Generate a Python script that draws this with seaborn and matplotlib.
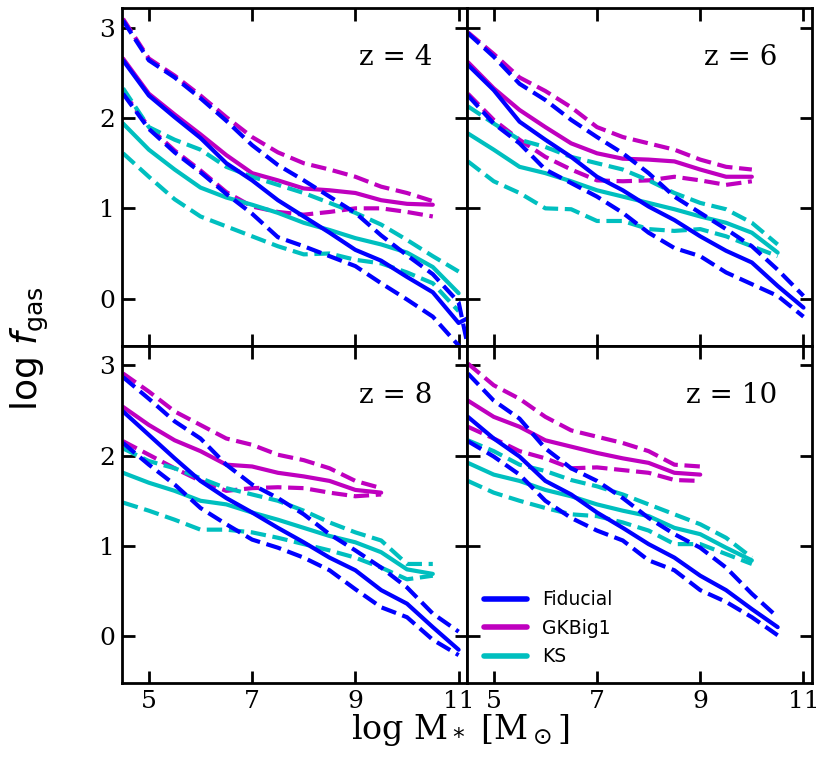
import numpy as np
import pandas as pd
import matplotlib
matplotlib.use("Agg")
import matplotlib.pyplot as plt
from matplotlib.lines import Line2D
import seaborn as sns

# ---------------- data (log M*, log f_gas) ----------------
mass = [4.5, 5.0, 5.5, 6.0, 6.5, 7.0, 7.5, 8.0, 8.5, 9.0, 9.5, 10.0, 10.5, 11.0, 11.5]

redshifts = [4, 6, 8, 10]
models = ["Fiducial", "GKBig1", "KS"]
colors = ["#0000ff", "#bf00bf", "#00bfbf"]

# z = 4
fid_z4 = [2.64, 2.25, 2.01, 1.78, 1.50, 1.31, 1.09, 0.91, 0.73, 0.54, 0.42, 0.24, 0.07, -0.27, -0.12]
fid_hi_z4 = [3.08, 2.64, 2.45, 2.22, 1.97, 1.70, 1.48, 1.31, 1.13, 0.95, 0.70, 0.48, 0.27, -0.04, -1.40]
fid_lo_z4 = [2.27, 1.88, 1.62, 1.40, 1.16, 0.94, 0.68, 0.58, 0.47, 0.36, 0.17, -0.01, -0.20, -0.52, -1.00]
gk_z4 = [2.66, 2.27, 2.04, 1.82, 1.59, 1.39, 1.31, 1.22, 1.20, 1.17, 1.09, 1.05, 1.04]
gk_hi_z4 = [3.10, 2.66, 2.47, 2.25, 2.01, 1.79, 1.62, 1.50, 1.43, 1.35, 1.24, 1.17, 1.08]
gk_lo_z4 = [2.29, 1.90, 1.64, 1.42, 1.18, 1.02, 0.96, 0.93, 0.96, 1.00, 1.00, 0.96, 0.91]
ks_z4 = [1.94, 1.65, 1.43, 1.23, 1.12, 1.04, 0.95, 0.84, 0.76, 0.67, 0.60, 0.51, 0.35, 0.06]
ks_hi_z4 = [2.33, 1.90, 1.76, 1.65, 1.46, 1.35, 1.26, 1.17, 1.06, 0.95, 0.82, 0.65, 0.47, 0.30]
ks_lo_z4 = [1.61, 1.35, 1.10, 0.91, 0.80, 0.69, 0.58, 0.49, 0.50, 0.43, 0.39, 0.29, 0.17, -0.14]

# z = 6
fid_z6 = [2.59, 2.31, 1.96, 1.76, 1.57, 1.35, 1.20, 1.02, 0.87, 0.69, 0.53, 0.40, 0.14, -0.10]
fid_hi_z6 = [2.94, 2.68, 2.38, 2.20, 1.98, 1.79, 1.61, 1.39, 1.13, 0.95, 0.77, 0.58, 0.32, 0.03]
fid_lo_z6 = [2.25, 1.94, 1.72, 1.43, 1.28, 1.13, 0.95, 0.73, 0.56, 0.47, 0.29, 0.16, 0.03, -0.20]
gk_z6 = [2.62, 2.33, 2.09, 1.90, 1.72, 1.61, 1.55, 1.54, 1.52, 1.43, 1.35, 1.35]
gk_hi_z6 = [2.95, 2.71, 2.45, 2.30, 2.12, 1.90, 1.79, 1.72, 1.65, 1.54, 1.46, 1.43]
gk_lo_z6 = [2.27, 1.98, 1.76, 1.57, 1.43, 1.31, 1.30, 1.31, 1.35, 1.31, 1.26, 1.30]
ks_z6 = [1.83, 1.65, 1.46, 1.39, 1.30, 1.20, 1.13, 1.06, 0.99, 0.91, 0.84, 0.73, 0.51]
ks_hi_z6 = [2.13, 1.94, 1.76, 1.68, 1.57, 1.50, 1.43, 1.31, 1.17, 1.06, 0.99, 0.84, 0.60]
ks_lo_z6 = [1.52, 1.30, 1.17, 1.00, 0.99, 0.86, 0.86, 0.77, 0.75, 0.77, 0.69, 0.58, 0.47]

# z = 8
fid_z8 = [2.49, 2.23, 1.97, 1.72, 1.53, 1.37, 1.20, 1.04, 0.87, 0.73, 0.51, 0.36, 0.10, -0.15]
fid_hi_z8 = [2.87, 2.63, 2.38, 2.19, 1.90, 1.68, 1.53, 1.35, 1.13, 0.95, 0.76, 0.54, 0.25, 0.05]
fid_lo_z8 = [2.14, 1.90, 1.68, 1.42, 1.24, 1.07, 0.98, 0.87, 0.73, 0.52, 0.32, 0.21, -0.04, -0.21]
gk_z8 = [2.54, 2.34, 2.17, 2.05, 1.90, 1.88, 1.81, 1.77, 1.72, 1.62, 1.59]
gk_hi_z8 = [2.91, 2.71, 2.49, 2.34, 2.19, 2.12, 2.01, 1.95, 1.86, 1.72, 1.64]
gk_lo_z8 = [2.16, 2.01, 1.86, 1.72, 1.61, 1.64, 1.65, 1.64, 1.59, 1.55, 1.57]
ks_z8 = [1.81, 1.70, 1.61, 1.50, 1.46, 1.37, 1.29, 1.20, 1.11, 1.04, 0.93, 0.74, 0.69]
ks_hi_z8 = [2.08, 1.94, 1.86, 1.75, 1.64, 1.57, 1.50, 1.39, 1.26, 1.15, 1.06, 0.80, 0.80]
ks_lo_z8 = [1.48, 1.39, 1.29, 1.18, 1.18, 1.15, 1.09, 1.02, 0.95, 0.87, 0.76, 0.63, 0.67]

# z = 10
fid_z10 = [2.43, 2.19, 1.99, 1.72, 1.57, 1.37, 1.20, 1.02, 0.87, 0.67, 0.51, 0.30, 0.10]
fid_hi_z10 = [2.91, 2.61, 2.41, 2.08, 1.86, 1.72, 1.53, 1.31, 1.13, 0.98, 0.76, 0.47, 0.21]
fid_lo_z10 = [2.16, 1.99, 1.79, 1.50, 1.31, 1.17, 1.06, 0.84, 0.73, 0.51, 0.38, 0.21, 0.01]
gk_z10 = [2.61, 2.43, 2.32, 2.17, 2.10, 2.03, 1.97, 1.92, 1.81, 1.79]
gk_hi_z10 = [3.02, 2.78, 2.63, 2.43, 2.28, 2.21, 2.14, 2.05, 1.90, 1.88]
gk_lo_z10 = [2.32, 2.19, 2.05, 1.97, 1.86, 1.87, 1.84, 1.81, 1.73, 1.72]
ks_z10 = [1.92, 1.79, 1.72, 1.62, 1.55, 1.46, 1.39, 1.33, 1.20, 1.13, 0.98, 0.84]
ks_hi_z10 = [2.17, 2.05, 1.90, 1.83, 1.73, 1.66, 1.57, 1.46, 1.35, 1.24, 1.09, 0.87]
ks_lo_z10 = [1.72, 1.59, 1.50, 1.42, 1.35, 1.33, 1.26, 1.17, 1.02, 1.02, 0.91, 0.80]

x_ticks = [5, 7, 9, 11]
y_ticks = [0, 1, 2, 3]

panels = {
    4: {"Fiducial": (fid_z4, fid_hi_z4, fid_lo_z4), "GKBig1": (gk_z4, gk_hi_z4, gk_lo_z4), "KS": (ks_z4, ks_hi_z4, ks_lo_z4)},
    6: {"Fiducial": (fid_z6, fid_hi_z6, fid_lo_z6), "GKBig1": (gk_z6, gk_hi_z6, gk_lo_z6), "KS": (ks_z6, ks_hi_z6, ks_lo_z6)},
    8: {"Fiducial": (fid_z8, fid_hi_z8, fid_lo_z8), "GKBig1": (gk_z8, gk_hi_z8, gk_lo_z8), "KS": (ks_z8, ks_hi_z8, ks_lo_z8)},
    10: {"Fiducial": (fid_z10, fid_hi_z10, fid_lo_z10), "GKBig1": (gk_z10, gk_hi_z10, gk_lo_z10), "KS": (ks_z10, ks_hi_z10, ks_lo_z10)},
}

# ---------------- style ----------------
sns.set_theme(style="ticks", color_codes=False)
plt.rcParams["font.family"] = ["DejaVu Serif"]
plt.rcParams["mathtext.fontset"] = "dejavusans"
for key in ("text.color", "axes.labelcolor", "xtick.color", "ytick.color", "axes.edgecolor"):
    plt.rcParams[key] = "black"

fig, axes = plt.subplots(2, 2, figsize=(8.3, 7.59), dpi=100, sharex=True, sharey=True)
fig.subplots_adjust(left=0.147, right=0.978, top=0.9895, bottom=0.1, wspace=0, hspace=0)

draw_order = ["GKBig1", "KS", "Fiducial"]
cmap = dict(zip(models, colors))

for ax, z in zip(axes.flat, redshifts):
    for m in draw_order:
        mid, hi, lo = panels[z][m]
        for arr, ls in ((hi, "--"), (lo, "--"), (mid, "-")):
            df = pd.DataFrame({"mass": mass[:len(arr)], "fgas": arr})
            sns.lineplot(data=df, x="mass", y="fgas", ax=ax, color=cmap[m],
                         linestyle=ls, linewidth=3, sort=False, legend=False)
    ax.set_xlim(4.48, 11.16)
    ax.set_ylim(-0.52, 3.22)
    ax.set_xticks(x_ticks)
    ax.set_yticks(y_ticks)
    ax.set_xlabel("")
    ax.set_ylabel("")
    ax.tick_params(direction="in", top=True, right=True, length=9, width=2,
                   labelsize=18, pad=5, colors="black")
    for s in ax.spines.values():
        s.set_linewidth(2)
        s.set_color("black")
    ax.text(0.9, 0.83, f"z = {z}", transform=ax.transAxes, ha="right",
            va="baseline", fontsize=20, color="black")

handles = [Line2D([0], [0], color=c, lw=4) for c in colors]
leg = axes[1, 1].legend(handles, models, loc="lower left", frameon=False,
                        prop={"family": "DejaVu Sans", "size": 13.5},
                        handlelength=2.3, labelspacing=0.5)
for t in leg.get_texts():
    t.set_color("black")

fig.text(0.555, 0.027, r"log M$_*$ [M$_\odot$]", ha="center", va="baseline",
         fontsize=24, family="DejaVu Serif", color="black")
fig.text(0.036, 0.541, r"log $f_{\rm gas}$", ha="center", va="center",
         rotation=90, fontsize=26, family="DejaVu Sans", color="black")

fig.savefig("out.png", dpi=100)
